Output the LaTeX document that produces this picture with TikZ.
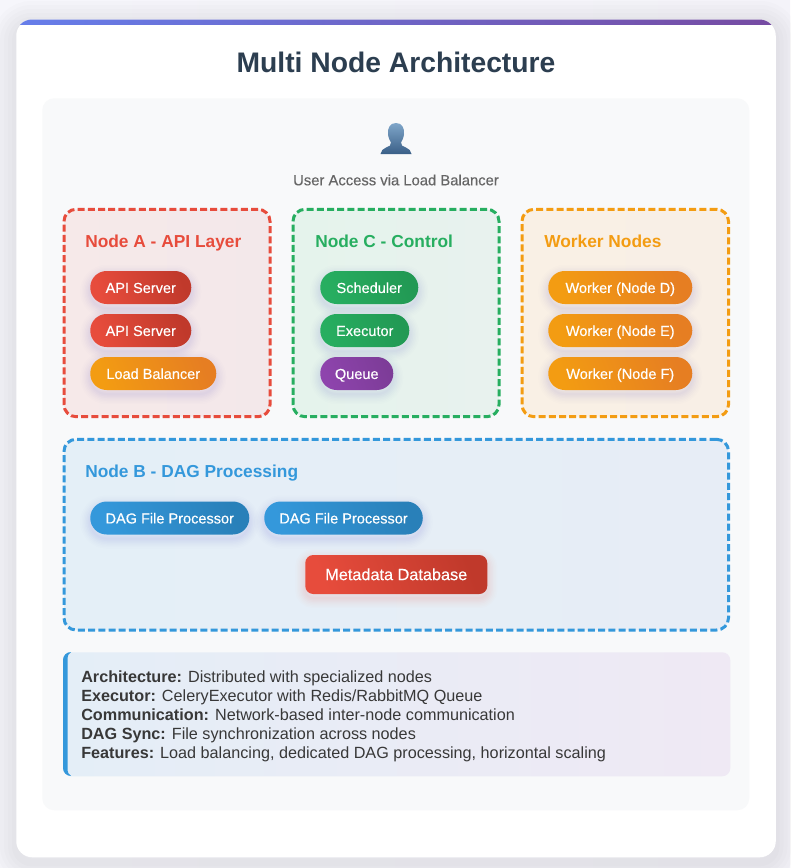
\documentclass[tikz,border=0pt]{standalone}
\usepackage{fontspec}
\setmainfont{Liberation Sans}
\newfontfamily\medfont[FakeBold=0.35]{Liberation Sans}
\usetikzlibrary{positioning,calc,backgrounds}

\definecolor{titlecol}{HTML}{2C3E50}
\definecolor{redA}{HTML}{E74C3C}
\definecolor{redB}{HTML}{C0392B}
\definecolor{greenA}{HTML}{27AE60}
\definecolor{greenB}{HTML}{229954}
\definecolor{orangeA}{HTML}{F39C12}
\definecolor{orangeB}{HTML}{E67E22}
\definecolor{blueA}{HTML}{3498DB}
\definecolor{blueB}{HTML}{2980B9}
\definecolor{purpleA}{HTML}{8E44AD}
\definecolor{purpleB}{HTML}{7D3C98}
\definecolor{shadowcol}{HTML}{5A5AD0}
\definecolor{barA}{HTML}{667EEA}
\definecolor{barB}{HTML}{764BA2}
\definecolor{panelcol}{HTML}{F8F9FA}
\definecolor{userA}{HTML}{7FA6C9}
\definecolor{userB}{HTML}{3A5F87}
\definecolor{pageA}{HTML}{F6F6FB}
\definecolor{pageB}{HTML}{F4F3F9}
\definecolor{redbgA}{HTML}{F6E9E9}
\definecolor{redbgB}{HTML}{F3E8EA}
\definecolor{greenbgA}{HTML}{E5F3EC}
\definecolor{greenbgB}{HTML}{E8F2EE}
\definecolor{orangebgA}{HTML}{F9F0E5}
\definecolor{orangebgB}{HTML}{F8EFE6}
\definecolor{bluebgA}{HTML}{E4EFF7}
\definecolor{bluebgB}{HTML}{E7EDF6}
\definecolor{infoA}{HTML}{E4EEF7}
\definecolor{infoB}{HTML}{EFE9F4}

\tikzset{
  softshadow/.style={
    preaction={draw=#1,line width=15pt,opacity=.01,transform canvas={yshift=-3pt}},
    preaction={draw=#1,line width=12.75pt,opacity=.012,transform canvas={yshift=-3pt}},
    preaction={draw=#1,line width=10.5pt,opacity=.016,transform canvas={yshift=-3pt}},
    preaction={draw=#1,line width=8.25pt,opacity=.02,transform canvas={yshift=-3pt}},
    preaction={draw=#1,line width=6pt,opacity=.022,transform canvas={yshift=-3pt}},
    preaction={draw=#1,line width=3.75pt,opacity=.024,transform canvas={yshift=-3pt}},
    preaction={draw=#1,line width=1.5pt,opacity=.024,transform canvas={yshift=-3pt}}},
  pill/.style n args={3}{anchor=west,minimum height=24.75pt,minimum width=#1*0.75pt,inner sep=0pt,
    rounded corners=12.3pt,softshadow=shadowcol,left color=#2,right color=#3,shading angle=110,
    text=white,text height=8.2pt,text depth=0pt,font=\medfont\fontsize{10.9}{13}\selectfont},
  groupbox/.style n args={5}{anchor=north west,minimum width=#1*0.75pt,minimum height=#2*0.75pt,inner sep=0pt,
    outer sep=0pt,rounded corners=9pt,draw=#3,line width=2.25pt,dash pattern=on 5.25pt off 2.4pt,left color=#4,right color=#5},
  grouptitle/.style={anchor=base west,inner sep=0pt,font=\bfseries\fontsize{13}{16}\selectfont,text=#1},
}

\begin{document}
\begin{tikzpicture}[x=0.75pt,y=-0.75pt]

\useasboundingbox (0,0) rectangle (790,868);
\fill[left color=pageA,right color=pageB] (0,0) rectangle (790,868);

% card with its shadow
\foreach \w in {48,40,32,24,16,8}
  \draw[black,opacity=.013,rounded corners=12pt,line width=\w*0.75pt,transform canvas={yshift=-4pt}] (16,19.5) rectangle (775.5,857);
\node[anchor=north west,minimum width=759.5*0.75pt,minimum height=837.5*0.75pt,inner sep=0pt,fill=white,rounded corners=12pt] (card) at (16,19.5) {};

\begin{scope}
\clip[rounded corners=12pt] (16,19.5) rectangle (775.5,857);
\shade[left color=barA,right color=barB] (16,19.5) rectangle (775.5,24);
\end{scope}

\node[anchor=center,inner sep=0pt,text=titlecol,font=\bfseries\fontsize{21.2}{26}\selectfont] (title) at (396,62) {Multi Node Architecture};

\node[anchor=north west,minimum width=707*0.75pt,minimum height=712*0.75pt,inner sep=0pt,fill=panelcol,rounded corners=9pt] (panel) at (42,98) {};

% user
\shade[top color=userA,bottom color=userB]
  (396,123) .. controls (390,123) and (387.5,128) .. (388,134)
  .. controls (388.3,138) and (390,141) .. (391,142.5)
  .. controls (391.5,145.5) and (389,146.5) .. (386,147.5)
  .. controls (383,148.5) and (381,151) .. (380.5,154)
  -- (411.5,154)
  .. controls (411,151) and (409,148.5) .. (406,147.5)
  .. controls (403,146.5) and (400.5,145.5) .. (401,142.5)
  .. controls (402,141) and (403.7,138) .. (404,134)
  .. controls (404.5,128) and (402,123) .. (396,123) -- cycle;
\node[inner sep=0pt,text=black!60,font=\medfont\fontsize{11.1}{13}\selectfont] (user) at (396,180) {User Access via Load Balancer};

% node A
\node[groupbox={206}{207.4}{redA}{redbgA}{redbgB}] (nodeA) at (64,209.3) {};
\node[grouptitle=redA] (nodeAt) at (85,247.5) {Node A - API Layer};
\node[pill={101}{redA}{redB}] (api1) at (90,287.5) {API Server};
\node[pill={101}{redA}{redB}] (api2) at (90,330.5) {API Server};
\node[pill={126}{orangeA}{orangeB}] (lb) at (90,373.5) {Load Balancer};

% node C
\node[groupbox={206}{207.4}{greenA}{greenbgA}{greenbgB}] (nodeC) at (293,209.3) {};
\node[grouptitle=greenA] (nodeCt) at (315,247.5) {Node C - Control};
\node[pill={98}{greenA}{greenB}] (sched) at (320,287.5) {Scheduler};
\node[pill={89}{greenA}{greenB}] (exec) at (320,330.5) {Executor};
\node[pill={73}{purpleA}{purpleB}] (queue) at (320,373.5) {Queue};

% workers
\node[groupbox={206.5}{207.4}{orangeA}{orangebgA}{orangebgB}] (workers) at (522,209.3) {};
\node[grouptitle=orangeA] (workerst) at (544,247.5) {Worker Nodes};
\node[pill={144}{orangeA}{orangeB}] (wD) at (548,287.5) {Worker (Node D)};
\node[pill={144}{orangeA}{orangeB}] (wE) at (548,330.5) {Worker (Node E)};
\node[pill={144}{orangeA}{orangeB}] (wF) at (548,373.5) {Worker (Node F)};

% node B
\node[groupbox={664.5}{190.7}{blueA}{bluebgA}{bluebgB}] (nodeB) at (64,439.3) {};
\node[grouptitle=blueA] (nodeBt) at (85,477.5) {Node B - DAG Processing};
\node[pill={159}{blueA}{blueB}] (dag1) at (90,518) {DAG File Processor};
\node[pill={158.5}{blueA}{blueB}] (dag2) at (264,518) {DAG File Processor};
\node[anchor=west,minimum height=39*0.75pt,minimum width=182*0.75pt,inner sep=0pt,rounded corners=6pt,
  softshadow=redA,left color=redA,right color=redB,shading angle=110,text=white,text height=8.4pt,text depth=0pt,
  font=\medfont\fontsize{12.2}{14}\selectfont] (meta) at (305,574.5) {Metadata Database};

% info
\node[anchor=north west,minimum width=667*0.75pt,minimum height=124*0.75pt,inner sep=0pt,left color=infoA,right color=infoB,rounded corners=6pt] (info) at (63,652) {};
\fill[blueA] (71,652) .. controls (66.5,652) and (63,655.5) .. (63,660) -- (63,768)
  .. controls (63,772.5) and (66.5,776) .. (71,776)
  .. controls (68.5,775) and (67.5,772) .. (67.5,768) -- (67.5,660)
  .. controls (67.5,656) and (68.5,653) .. (71,652) -- cycle;
\node[anchor=north west,inner sep=0pt,align=left,text=black!78,font=\fontsize{12.15}{14.25}\selectfont] (infotext) at (81,670) {%
  \textbf{Architecture:} Distributed with specialized nodes\\
  \textbf{Executor:} CeleryExecutor with Redis/RabbitMQ Queue\\
  \textbf{Communication:} Network-based inter-node communication\\
  \textbf{DAG Sync:} File synchronization across nodes\\
  \textbf{Features:} Load balancing, dedicated DAG processing, horizontal scaling};

\end{tikzpicture}
\end{document}
